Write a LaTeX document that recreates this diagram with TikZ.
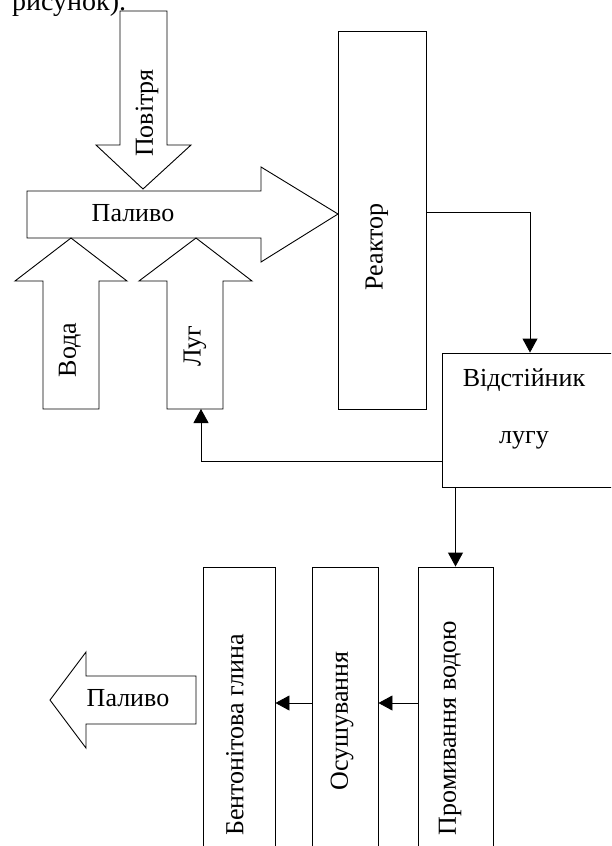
\documentclass[tikz,border=0pt]{standalone}
\usepackage{fontspec}
\setmainfont{Liberation Serif}
\usetikzlibrary{arrows.meta}
\tikzset{
  blockarrow/.style={draw=black,line width=0.9pt,fill=white,line join=miter},
  box/.style={draw=black,line width=0.9pt,fill=white,inner sep=0pt},
  lbl/.style={font=\fontsize{26}{30}\selectfont,inner sep=0pt},
  vlbl/.style={lbl,rotate=90},
  conn/.style={draw=black,line width=0.9pt,-{Triangle[length=14pt,width=15pt]}},
  plain/.style={draw=black,line width=0.9pt}
}
\begin{document}
\begin{tikzpicture}[x=1pt,y=-1pt]
\useasboundingbox (0,0) rectangle (611,846);
\clip (0,0) rectangle (611,846);
% cropped caption text at the top
\node[lbl,font=\fontsize{28}{32}\selectfont,anchor=base west] (cap) at (12,10) {рисунок).};
% block arrows
\draw[blockarrow] (120,11) -- (167,11) -- (167,145) -- (191,145) -- (143,189) -- (96,145) -- (120,145) -- cycle;
\draw[blockarrow] (27,191) -- (261,191) -- (261,167) -- (338,214) -- (261,262) -- (261,238) -- (27,238) -- cycle;
\draw[blockarrow] (43,409) -- (43,281) -- (15,281) -- (71,238) -- (127,281) -- (99,281) -- (99,409) -- cycle;
\draw[blockarrow] (167,409) -- (167,281) -- (139,281) -- (196,238) -- (252,281) -- (223,281) -- (223,409) -- cycle;
\draw[blockarrow] (196,676) -- (86,676) -- (86,652) -- (50,700) -- (86,748) -- (86,724) -- (196,724) -- cycle;
\node[vlbl] (air) at (147,113) {Повітря};
\node[lbl] (fuel) at (133,213) {Паливо};
\node[vlbl] (water) at (70,350) {Вода};
\node[vlbl] (lye) at (195,346) {Луг};
\node[lbl] (fuelout) at (128,698) {Паливо};
% boxes
\node[box,minimum width=88pt,minimum height=378pt] (reactor) at (382,220) {};
\node[vlbl] (reactortxt) at (377,247) {Реактор};
\node[box,minimum width=176pt,minimum height=134pt] (settler) at (530,420) {};
\node[lbl] (settler1) at (524,380) {Відстійник};
\node[lbl] (settler2) at (524,440) {лугу};
\node[box,minimum width=75pt,minimum height=300pt] (wash) at (455.5,717) {};
\node[vlbl] (washtxt) at (450,728) {Промивання водою};
\node[box,minimum width=66pt,minimum height=300pt] (dry) at (345,717) {};
\node[vlbl] (drytxt) at (342,721) {Осушування};
\node[box,minimum width=72pt,minimum height=300pt] (clay) at (239,717) {};
\node[vlbl] (claytxt) at (235,735) {Бентонітова глина};
% connectors
\coordinate (ry) at (0,212);
\coordinate (ay) at (0,703);
\coordinate (fy) at (0,461);
\coordinate (lugbot) at (201,409);
\draw[conn] (reactor.east |- ry) -| (settler.north);
\draw[conn] (settler.south -| wash.north) -- (wash.north);
\draw[conn] (wash.west |- ay) -- (dry.east |- ay);
\draw[conn] (dry.west |- ay) -- (clay.east |- ay);
\draw[conn] (settler.west |- fy) -| (lugbot);
\end{tikzpicture}
\end{document}
